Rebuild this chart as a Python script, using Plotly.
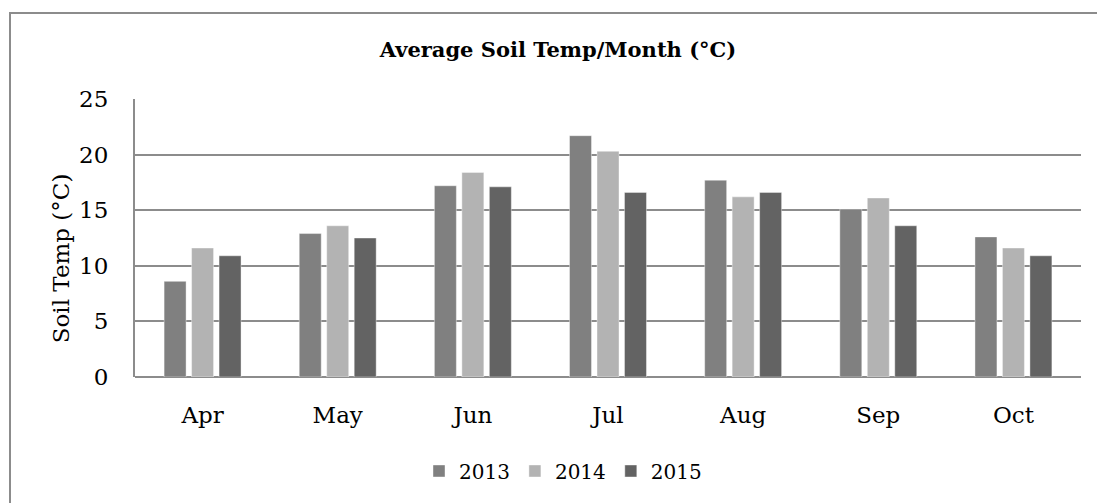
import plotly.graph_objects as go

months = ["Apr", "May", "Jun", "Jul", "Aug", "Sep", "Oct"]
temp_2013 = [8.6, 12.9, 17.2, 21.7, 17.7, 15.1, 12.6]
temp_2014 = [11.6, 13.6, 18.4, 20.3, 16.2, 16.1, 11.6]
temp_2015 = [10.9, 12.5, 17.1, 16.6, 16.6, 13.6, 10.9]
series_names = ["2013", "2014", "2015"]
series_colors = ["#808080", "#b3b3b3", "#636363"]

FONT = "DejaVu Serif"
W, H = 1097, 503
ML, MR, MT, MB = 135, 16, 99, 123
pw = W - ML - MR
ph = H - MT - MB

def px_x(x):
    return (x - ML) / pw

def px_y(y):
    return (H - MB - y) / ph

fig = go.Figure()
for name, vals, col in zip(series_names, [temp_2013, temp_2014, temp_2015], series_colors):
    fig.add_trace(go.Bar(
        x=months, y=vals, name=name,
        marker=dict(color=col, line=dict(color="rgba(255,255,255,0.5)", width=0.8)),
    ))

fig.update_layout(
    width=W, height=H,
    margin=dict(l=ML, r=MR, t=MT, b=MB),
    paper_bgcolor="white", plot_bgcolor="white",
    barmode="group", bargap=0.39, bargroupgap=0.2,
    font=dict(family=FONT, color="#000000", size=23),
    title=dict(text="<b>Average Soil Temp/Month (°C)</b>", x=px_x(558), xref="paper",
               xanchor="center", y=1 - 50 / H, yref="container", yanchor="middle",
               font=dict(family=FONT, size=21, color="#000000")),
    showlegend=True,
    legend=dict(orientation="h", x=px_x(563), xanchor="center", y=px_y(475), yanchor="middle",
                font=dict(family=FONT, size=20), itemclick=False, traceorder="normal",
                bgcolor="rgba(0,0,0,0)"),
    xaxis=dict(showgrid=False, showline=False, ticks="", ticklabelstandoff=22,
               tickfont=dict(family=FONT, size=23)),
    yaxis=dict(range=[0, 25], dtick=5, tick0=0, showgrid=True, gridcolor="#8c8c8c", gridwidth=2,
               showline=True, linecolor="#8c8c8c", linewidth=2, zeroline=True,
               zerolinecolor="#8c8c8c", zerolinewidth=2, ticks="", ticklabelstandoff=20,
               tickfont=dict(family=FONT, size=23)),
    annotations=[dict(text="Soil Temp (°C)", textangle=-90, x=px_x(61), y=px_y(260),
                      xref="paper", yref="paper", showarrow=False,
                      font=dict(family=FONT, size=23), xanchor="center", yanchor="middle")],
    shapes=[dict(type="rect", xref="paper", yref="paper",
                 x0=px_x(10), x1=px_x(W + 20), y0=px_y(H + 20), y1=px_y(12),
                 line=dict(color="#8c8c8c", width=2), fillcolor="rgba(0,0,0,0)", layer="below")],
)

fig.write_html("out.html", config={"displayModeBar": False},
               post_script="document.body.style.margin='0';document.body.style.overflow='hidden';")
